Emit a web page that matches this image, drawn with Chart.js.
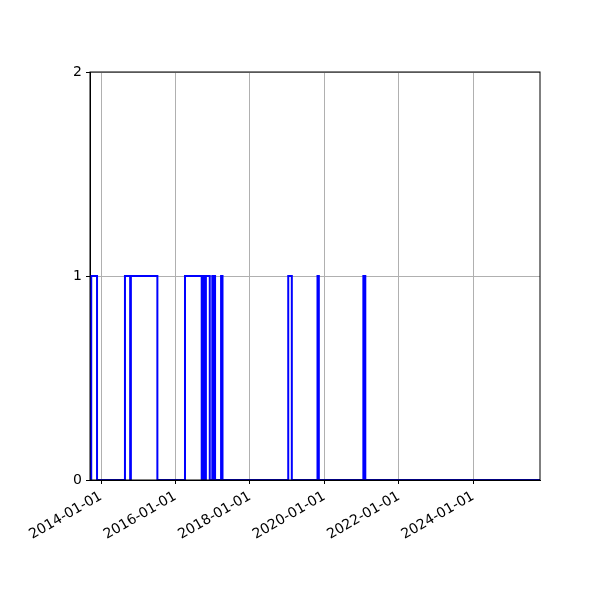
<!DOCTYPE html>
<html>
<head>
<meta charset="utf-8">
<script src="https://cdn.jsdelivr.net/npm/chart.js@4"></script>
<style>
  body { margin: 0; background: #fff; }
  #wrap { width: 600px; height: 600px; }
</style>
</head>
<body>
<div id="wrap"><canvas id="chart" width="600" height="600"></canvas></div>
<script>
// step series: date where the value changes, and the new value
const stepDates = [
  "2013-09-15", "2013-09-27", "2013-11-23", "2014-08-24", "2014-10-14",
  "2014-10-21", "2015-07-08", "2016-04-04", "2016-09-15", "2016-09-22",
  "2016-10-01", "2016-10-08", "2016-10-18", "2016-10-26", "2016-12-03",
  "2016-12-28", "2017-01-11", "2017-01-18", "2017-01-24", "2017-03-24",
  "2017-04-07", "2019-01-12", "2019-02-16", "2019-10-26", "2019-11-08",
  "2021-01-18", "2021-02-06", "2025-10-17"
];
const stepValues = [
  0, 1, 0, 1, 0,
  1, 0, 1, 0, 1,
  0, 1, 0, 1, 0,
  1, 0, 1, 0, 1,
  0, 1, 0, 1, 0,
  1, 0, 0
];
const xTickDates = ["2014-01-01", "2016-01-01", "2018-01-01", "2020-01-01", "2022-01-01", "2024-01-01"];
const yTicks = [0, 1, 2];
const xRange = ["2013-09-15", "2025-10-17"];

const toMs = (s) => Date.parse(s + "T00:00:00Z");

const points = stepDates.map((d, i) => ({ x: toMs(d), y: stepValues[i] }));

// top and right spines like the original frame
const framePlugin = {
  id: "frame",
  afterDraw(chart) {
    const { ctx, chartArea: a } = chart;
    ctx.save();
    ctx.strokeStyle = "#000";
    ctx.lineWidth = 1;
    ctx.strokeRect(a.left, a.top, a.right - a.left, a.bottom - a.top);
    ctx.restore();
  },
};

new Chart(document.getElementById("chart"), {
  type: "line",
  data: {
    datasets: [
      {
        data: points,
        stepped: true,
        borderColor: "#0000ff",
        borderWidth: 2,
        pointRadius: 0,
        fill: false,
      },
    ],
  },
  options: {
    responsive: false,
    animation: false,
    layout: { padding: { left: 0, top: 72, right: 60, bottom: 0 } },
    plugins: { legend: { display: false }, tooltip: { enabled: false } },
    scales: {
      x: {
        type: "linear",
        min: toMs(xRange[0]),
        max: toMs(xRange[1]),
        afterBuildTicks: (scale) => {
          scale.ticks = xTickDates.map((d) => ({ value: toMs(d) }));
        },
        afterFit: (scale) => {
          scale.height = 120;
        },
        grid: {
          color: "#b0b0b0",
          lineWidth: 1,
          tickColor: "#000",
          tickLength: 4,
        },
        border: { color: "#000", width: 1 },
        ticks: {
          autoSkip: false,
          minRotation: 30,
          maxRotation: 30,
          color: "#000",
          padding: 4,
          font: { family: "DejaVu Sans", size: 14 },
          callback: (v) => new Date(v).toISOString().slice(0, 10),
        },
      },
      y: {
        min: 0,
        max: 2,
        afterBuildTicks: (scale) => {
          scale.ticks = yTicks.map((v) => ({ value: v }));
        },
        afterFit: (scale) => {
          scale.width = 90;
        },
        grid: {
          color: "#b0b0b0",
          lineWidth: 1,
          tickColor: "#000",
          tickLength: 4,
        },
        border: { color: "#000", width: 1 },
        ticks: {
          color: "#000",
          padding: 4,
          font: { family: "DejaVu Sans", size: 14 },
        },
      },
    },
  },
  plugins: [framePlugin],
});
</script>
</body>
</html>
